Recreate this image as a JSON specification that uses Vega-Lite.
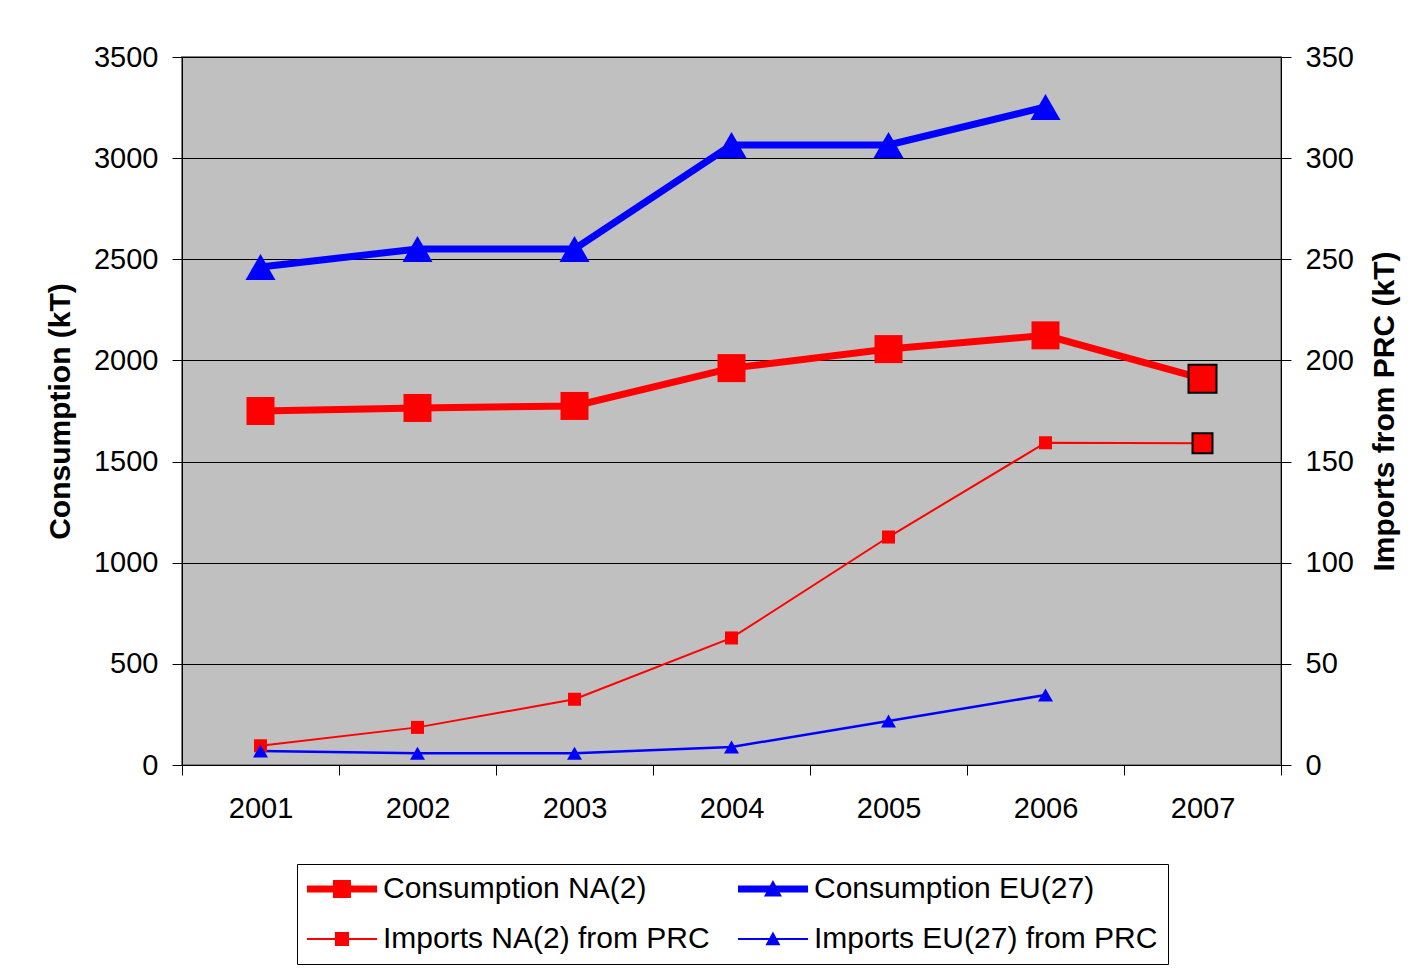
{
  "$schema": "https://vega.github.io/schema/vega-lite/v6.json",
  "width": 1099,
  "height": 708,
  "autosize": {"type": "none"},
  "padding": {"left": 182, "top": 57, "right": 138, "bottom": 205},
  "background": "white",
  "config": {
    "font": "Liberation Sans",
    "view": {"fill": "#C0C0C0", "stroke": "#808080", "strokeWidth": 2},
    "axis": {
      "labelFont": "Liberation Sans", "labelFontSize": 29, "labelColor": "black",
      "titleFont": "Liberation Sans", "titleFontSize": 30, "titleFontWeight": "bold", "titleColor": "black",
      "domainColor": "black", "tickColor": "black", "tickSize": 10, "labelPadding": 14,
      "gridColor": "black", "gridWidth": 1
    },
    "legend": {"labelFont": "Liberation Sans", "labelFontSize": 30, "labelColor": "black"}
  },
  "data": {"values": [
    {"year": "2001", "series": "Consumption NA(2)", "value": 1750},
    {"year": "2002", "series": "Consumption NA(2)", "value": 1765},
    {"year": "2003", "series": "Consumption NA(2)", "value": 1775},
    {"year": "2004", "series": "Consumption NA(2)", "value": 1962},
    {"year": "2005", "series": "Consumption NA(2)", "value": 2056},
    {"year": "2006", "series": "Consumption NA(2)", "value": 2124},
    {"year": "2007", "series": "Consumption NA(2)", "value": 1910},
    {"year": "2001", "series": "Consumption EU(27)", "value": 2462},
    {"year": "2002", "series": "Consumption EU(27)", "value": 2551},
    {"year": "2003", "series": "Consumption EU(27)", "value": 2551},
    {"year": "2004", "series": "Consumption EU(27)", "value": 3065},
    {"year": "2005", "series": "Consumption EU(27)", "value": 3065},
    {"year": "2006", "series": "Consumption EU(27)", "value": 3253},
    {"year": "2001", "series": "Imports NA(2) from PRC", "value": 9.5},
    {"year": "2002", "series": "Imports NA(2) from PRC", "value": 18.6},
    {"year": "2003", "series": "Imports NA(2) from PRC", "value": 32.5},
    {"year": "2004", "series": "Imports NA(2) from PRC", "value": 62.8},
    {"year": "2005", "series": "Imports NA(2) from PRC", "value": 112.7},
    {"year": "2006", "series": "Imports NA(2) from PRC", "value": 159.3},
    {"year": "2007", "series": "Imports NA(2) from PRC", "value": 159.0},
    {"year": "2001", "series": "Imports EU(27) from PRC", "value": 6.9},
    {"year": "2002", "series": "Imports EU(27) from PRC", "value": 5.8},
    {"year": "2003", "series": "Imports EU(27) from PRC", "value": 5.8},
    {"year": "2004", "series": "Imports EU(27) from PRC", "value": 8.9},
    {"year": "2005", "series": "Imports EU(27) from PRC", "value": 21.8},
    {"year": "2006", "series": "Imports EU(27) from PRC", "value": 34.6}
  ]},
  "encoding": {
    "x": {
      "field": "year", "type": "ordinal",
      "scale": {"type": "band", "paddingInner": 0, "paddingOuter": 0},
      "axis": {"title": null, "labelAngle": 0, "tickBand": "extent", "labelPadding": 19, "grid": false}
    }
  },
  "layer": [
    {
      "encoding": {
        "y": {
          "field": "value", "type": "quantitative",
          "scale": {"domain": [0, 3500], "nice": false, "zero": true},
          "axis": {"title": "Consumption (kT)", "orient": "left", "format": "d", "values": [0, 500, 1000, 1500, 2000, 2500, 3000, 3500], "grid": true, "titlePadding": 18}
        }
      },
      "layer": [
        {
          "transform": [{"filter": "datum.series == 'Consumption NA(2)'"}],
          "mark": {"type": "line", "color": "#FF0000", "strokeWidth": 7}
        },
        {
          "transform": [{"filter": "datum.series == 'Consumption EU(27)'"}],
          "mark": {"type": "line", "color": "#0000FF", "strokeWidth": 7}
        },
        {
          "transform": [{"filter": "datum.series == 'Consumption NA(2)'"}],
          "mark": {"type": "point", "shape": "square", "filled": true, "fill": "#FF0000", "size": 784, "opacity": 1, "strokeWidth": 2},
          "encoding": {
            "stroke": {"condition": {"test": "datum.year == '2007'", "value": "black"}, "value": null}
          }
        },
        {
          "transform": [{"filter": "datum.series == 'Consumption EU(27)'"}],
          "mark": {"type": "point", "shape": "triangle-up", "filled": true, "fill": "#0000FF", "size": 900, "opacity": 1}
        },
        {
          "mark": {"type": "point", "filled": true, "opacity": 0},
          "encoding": {
            "color": {
              "field": "series", "type": "nominal",
              "scale": {
                "domain": ["Consumption NA(2)", "Consumption EU(27)", "Imports NA(2) from PRC", "Imports EU(27) from PRC"],
                "range": ["#FF0000", "#0000FF", "#FF0000", "#0000FF"]
              },
              "legend": {
                "title": null, "orient": "none", "legendX": 115, "legendY": 807,
                "columns": 2, "direction": "horizontal",
                "symbolSize": 900, "symbolOpacity": 1, "symbolStrokeWidth": 0,
                "labelOffset": 46, "columnPadding": 28, "rowPadding": 20,
                "padding": 10, "strokeColor": "black", "fillColor": "white",
                "labelFontSize": 30, "labelLimit": 600
              }
            },
            "shape": {
              "field": "series", "type": "nominal",
              "scale": {
                "domain": ["Consumption NA(2)", "Consumption EU(27)", "Imports NA(2) from PRC", "Imports EU(27) from PRC"],
                "range": [
                  "M-1,-0.23H3.67V0.23H-1Z M0.73,-0.6H1.93V0.6H0.73Z",
                  "M-1,-0.23H3.67V0.23H-1Z M1.33,-0.6L1.93,0.5L0.73,0.5Z",
                  "M-1,-0.07H3.67V0.07H-1Z M0.86,-0.47H1.8V0.47H0.86Z",
                  "M-1,-0.07H3.67V0.07H-1Z M1.33,-0.5L1.83,0.42L0.83,0.42Z"
                ]
              },
              "legend": {
                "title": null, "orient": "none", "legendX": 115, "legendY": 807,
                "columns": 2, "direction": "horizontal",
                "symbolSize": 900, "symbolOpacity": 1, "symbolStrokeWidth": 0,
                "labelOffset": 46, "columnPadding": 28, "rowPadding": 20,
                "padding": 10, "strokeColor": "black", "fillColor": "white",
                "labelFontSize": 30, "labelLimit": 600
              }
            }
          }
        }
      ]
    },
    {
      "encoding": {
        "y": {
          "field": "value", "type": "quantitative",
          "scale": {"domain": [0, 350], "nice": false, "zero": true},
          "axis": {"title": "Imports from PRC (kT)", "orient": "right", "values": [0, 50, 100, 150, 200, 250, 300, 350], "grid": false, "titleAngle": 270, "titleBaseline": "top", "titlePadding": 16}
        }
      },
      "layer": [
        {
          "transform": [{"filter": "datum.series == 'Imports NA(2) from PRC'"}],
          "mark": {"type": "line", "color": "#FF0000", "strokeWidth": 2}
        },
        {
          "transform": [{"filter": "datum.series == 'Imports EU(27) from PRC'"}],
          "mark": {"type": "line", "color": "#0000FF", "strokeWidth": 2.5}
        },
        {
          "transform": [{"filter": "datum.series == 'Imports NA(2) from PRC'"}],
          "mark": {"type": "point", "shape": "square", "filled": true, "fill": "#FF0000", "size": 170, "opacity": 1, "strokeWidth": 2},
          "encoding": {
            "stroke": {"condition": {"test": "datum.year == '2007'", "value": "black"}, "value": null},
            "size": {"condition": {"test": "datum.year == '2007'", "value": 400}, "value": 170}
          }
        },
        {
          "transform": [{"filter": "datum.series == 'Imports EU(27) from PRC'"}],
          "mark": {"type": "point", "shape": "triangle-up", "filled": true, "fill": "#0000FF", "size": 225, "opacity": 1}
        }
      ]
    }
  ],
  "resolve": {"scale": {"y": "independent"}}
}
